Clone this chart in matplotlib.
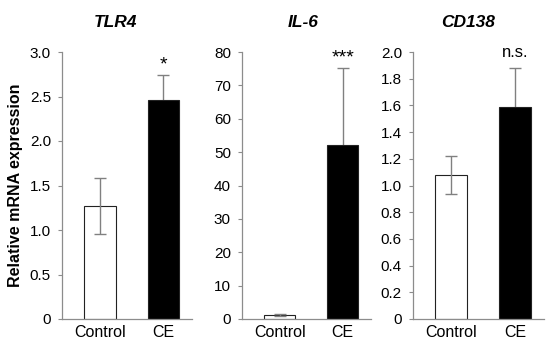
import matplotlib.pyplot as plt

plt.rcParams['font.family'] = ['Liberation Sans', 'DejaVu Sans']

groups = ['Control', 'CE']
genes = ['TLR4', 'IL-6', 'CD138']
means = [[1.27, 2.46], [1.2, 52.2], [1.08, 1.59]]
errors = [[0.31, 0.28], [0.2, 23.0], [0.14, 0.29]]
signif = ['*', '***', 'n.s.']
ylims = [3.0, 80, 2.0]
yticks = [[0, 0.5, 1.0, 1.5, 2.0, 2.5, 3.0],
          [0, 10, 20, 30, 40, 50, 60, 70, 80],
          [0, 0.2, 0.4, 0.6, 0.8, 1.0, 1.2, 1.4, 1.6, 1.8, 2.0]]
ytick_labels = [['0', '0.5', '1.0', '1.5', '2.0', '2.5', '3.0'],
                ['0', '10', '20', '30', '40', '50', '60', '70', '80'],
                ['0', '0.2', '0.4', '0.6', '0.8', '1.0', '1.2', '1.4', '1.6', '1.8', '2.0']]

fig = plt.figure(figsize=(5.5, 3.45), dpi=100)
lefts = [62, 242, 413]
rights = [192, 371, 544]
title_x = [0.41, 0.47, 0.42]
axis_col = '#8c8c8c'

for i in range(3):
    ax = fig.add_axes([lefts[i] / 550, 1 - 319 / 345,
                       (rights[i] - lefts[i]) / 550, (319 - 52) / 345])
    x = [0, 1]
    ax.bar(x, means[i], width=0.5, color=['white', 'black'],
           edgecolor='#222222', linewidth=0.8, zorder=2)
    # control: error bar drawn over the white bar; CE: behind the black bar
    ax.errorbar([0], [means[i][0]], yerr=[errors[i][0]], fmt='none',
                ecolor='#808080', elinewidth=1, capsize=4, capthick=1, zorder=3)
    ax.errorbar([1], [means[i][1]], yerr=[errors[i][1]], fmt='none',
                ecolor='#808080', elinewidth=1, capsize=4, capthick=1, zorder=1)
    ax.set_xlim(-0.6, 1.45)
    ax.set_ylim(0, ylims[i])
    ax.set_yticks(yticks[i])
    ax.set_yticklabels(ytick_labels[i])
    ax.set_xticks(x)
    ax.set_xticklabels(groups)
    ax.tick_params(axis='y', length=3, color=axis_col, labelsize=11, pad=5)
    ax.tick_params(axis='x', length=0, labelsize=11.5, pad=4)
    for s in ['top', 'right']:
        ax.spines[s].set_visible(False)
    for s in ['left', 'bottom']:
        ax.spines[s].set_color(axis_col)
        ax.spines[s].set_linewidth(0.9)
    ax.set_title(genes[i], fontsize=12.5, fontweight='bold', style='italic',
                 pad=18, x=title_x[i])
    if signif[i] == 'n.s.':
        ax.text(1, means[i][1] + errors[i][1] + ylims[i] * 0.03, signif[i],
                ha='center', va='bottom', fontsize=12)
    else:
        ax.text(1, means[i][1] + errors[i][1] + ylims[i] * 0.005, signif[i],
                ha='center', va='bottom', fontsize=14)
    if i == 0:
        ax.set_ylabel('Relative mRNA expression', fontsize=11.5, fontweight='bold', labelpad=5)

plt.savefig('out.png', dpi=100)
